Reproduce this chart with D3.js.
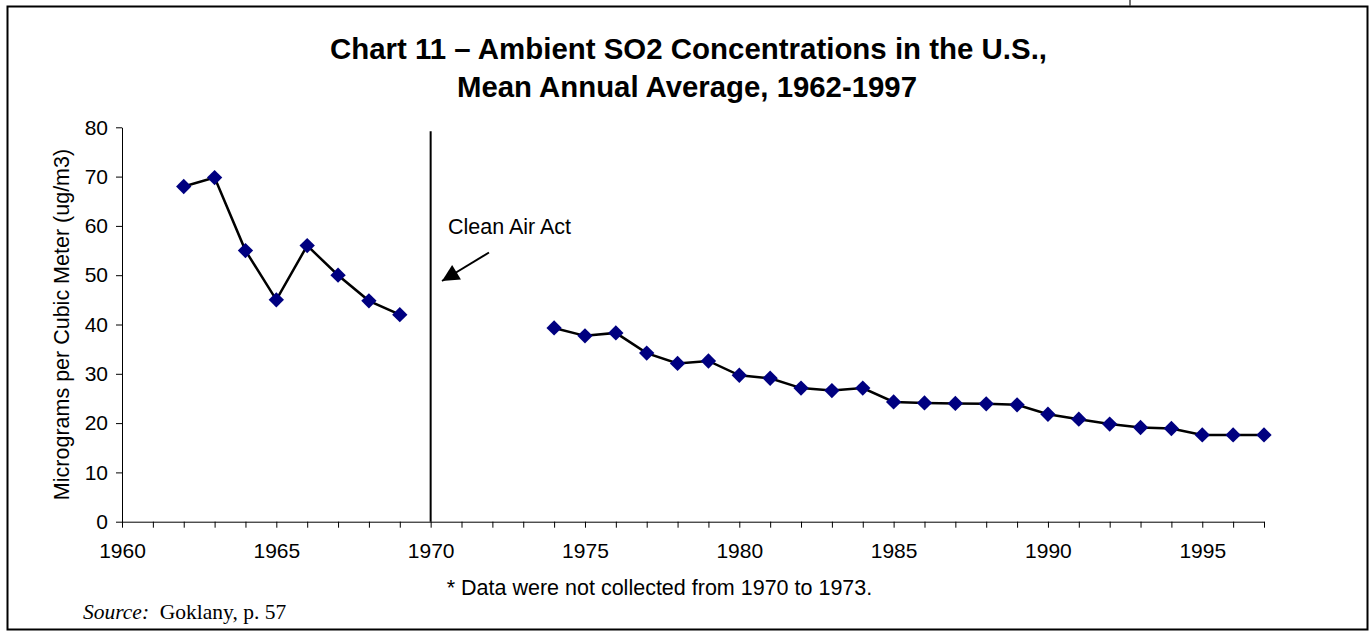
<!DOCTYPE html>
<html>
<head>
<meta charset="utf-8">
<script src="https://cdn.jsdelivr.net/npm/d3@7"></script>
<style>
  html, body { margin: 0; padding: 0; background: #fff; }
  svg { display: block; }
</style>
</head>
<body>
<svg id="chart" width="1370" height="633"></svg>
<script>
// ---- data ----
const title1 = "Chart 11 \u2013 Ambient SO2 Concentrations in the U.S.,";
const title2 = "Mean Annual Average, 1962-1997";
const yLabel = "Micrograms per Cubic Meter (ug/m3)";
const footnote = "* Data were not collected from 1970 to 1973.";
const annotation = "Clean Air Act";
const eventYear = 1970;

const yearsEarly = [1962, 1963, 1964, 1965, 1966, 1967, 1968, 1969];
const valuesEarly = [68, 69.8, 55, 45, 56, 50, 44.8, 42];

const yearsLate = [1974, 1975, 1976, 1977, 1978, 1979, 1980, 1981, 1982, 1983, 1984, 1985,
                   1986, 1987, 1988, 1989, 1990, 1991, 1992, 1993, 1994, 1995, 1996, 1997];
const valuesLate = [39.3, 37.7, 38.3, 34.2, 32.1, 32.6, 29.7, 29.1, 27.1, 26.6, 27.1, 24.3,
                    24.1, 24.0, 23.9, 23.7, 21.8, 20.8, 19.8, 19.1, 18.9, 17.6, 17.6, 17.6];

const yTicks = [0, 10, 20, 30, 40, 50, 60, 70, 80];
const xTickYears = d3.range(1960, 1998);
const xLabelYears = [1960, 1965, 1970, 1975, 1980, 1985, 1990, 1995];

// ---- drawing ----
const svg = d3.select("#chart");
const SANS = "'Liberation Sans', Arial, sans-serif";
const SERIF = "'Liberation Serif', 'Times New Roman', serif";

svg.append("rect").attr("x", 0).attr("y", 0).attr("width", 1370).attr("height", 633).attr("fill", "#fff");

// frame
svg.append("rect")
  .attr("x", 7.5).attr("y", 6.5).attr("width", 1360).attr("height", 623)
  .attr("fill", "none").attr("stroke", "#000").attr("stroke-width", 2);
svg.append("line").attr("x1", 1130).attr("x2", 1130).attr("y1", 0).attr("y2", 6)
  .attr("stroke", "#444").attr("stroke-width", 1.5);

const x = d3.scaleLinear().domain([1960, 1997]).range([122, 1264]);
const y = d3.scaleLinear().domain([0, 80]).range([521.7, 127.3]);

// title
svg.append("text").attr("x", 688.5).attr("y", 59)
  .attr("text-anchor", "middle")
  .attr("font-family", SANS).attr("font-weight", "bold").attr("font-size", 29)
  .attr("textLength", 717).attr("lengthAdjust", "spacingAndGlyphs")
  .text(title1);
svg.append("text").attr("x", 687).attr("y", 97)
  .attr("text-anchor", "middle")
  .attr("font-family", SANS).attr("font-weight", "bold").attr("font-size", 29)
  .attr("textLength", 460).attr("lengthAdjust", "spacingAndGlyphs")
  .text(title2);

// y axis
const yAxis = svg.append("g").attr("transform", "translate(122,0)")
  .call(d3.axisLeft(y).tickValues(yTicks).tickSize(6).tickPadding(8).tickSizeOuter(0));
yAxis.select(".domain").attr("stroke", "#000").attr("stroke-width", 1);
yAxis.selectAll(".tick line").attr("stroke", "#000");
yAxis.selectAll(".tick text").attr("font-family", SANS).attr("font-size", 21).attr("fill", "#000");

// x axis
const xAxis = svg.append("g").attr("transform", `translate(0,${y(0)})`)
  .call(d3.axisBottom(x).tickValues(xTickYears)
    .tickFormat(d => xLabelYears.includes(d) ? String(d) : "")
    .tickSize(6).tickPadding(15).tickSizeOuter(0));
xAxis.select(".domain").attr("stroke", "#000").attr("stroke-width", 1);
xAxis.selectAll(".tick line").attr("stroke", "#000");
xAxis.selectAll(".tick text").attr("font-family", SANS).attr("font-size", 21).attr("fill", "#000");

// y label
svg.append("text")
  .attr("transform", `translate(69,${y(40)}) rotate(-90)`)
  .attr("text-anchor", "middle")
  .attr("font-family", SANS).attr("font-size", 21.5)
  .text(yLabel);

// event line
svg.append("line")
  .attr("x1", x(eventYear)).attr("x2", x(eventYear))
  .attr("y1", y(79.2)).attr("y2", y(0))
  .attr("stroke", "#000").attr("stroke-width", 2);

// annotation
svg.append("text").attr("x", 448).attr("y", 234)
  .attr("font-family", SANS).attr("font-size", 21.5).text(annotation);
svg.append("defs").append("marker")
  .attr("id", "arrowhead").attr("viewBox", "0 0 10 10")
  .attr("refX", 10).attr("refY", 5)
  .attr("markerWidth", 21).attr("markerHeight", 17).attr("markerUnits", "userSpaceOnUse")
  .attr("orient", "auto")
  .append("path").attr("d", "M0,0 L10,5 L0,10 Z").attr("fill", "#000");
svg.append("line")
  .attr("x1", 489).attr("y1", 252.5).attr("x2", 442).attr("y2", 281)
  .attr("stroke", "#000").attr("stroke-width", 2)
  .attr("marker-end", "url(#arrowhead)");

// series lines
const line = d3.line().x(d => x(d[0])).y(d => y(d[1]));
const early = yearsEarly.map((yr, i) => [yr, valuesEarly[i]]);
const late = yearsLate.map((yr, i) => [yr, valuesLate[i]]);
[early, late].forEach(seg => {
  svg.append("path").datum(seg)
    .attr("d", line).attr("fill", "none")
    .attr("stroke", "#000").attr("stroke-width", 2.5);
});

// markers
const diamond = d3.symbol().type(d3.symbolDiamond2).size(150);
svg.append("g").selectAll("path")
  .data(early.concat(late))
  .join("path")
  .attr("transform", d => `translate(${x(d[0])},${y(d[1])})`)
  .attr("d", diamond)
  .attr("fill", "#000080");

// footnote
svg.append("text").attr("x", 659.5).attr("y", 595)
  .attr("text-anchor", "middle")
  .attr("font-family", SANS).attr("font-size", 21.5).text(footnote);

// source
const src = svg.append("text").attr("x", 83).attr("y", 619)
  .attr("font-family", SERIF).attr("font-size", 21.5);
src.append("tspan").attr("font-style", "italic").text("Source:");
src.append("tspan").text("\u00a0 Goklany, p. 57");
</script>
</body>
</html>
